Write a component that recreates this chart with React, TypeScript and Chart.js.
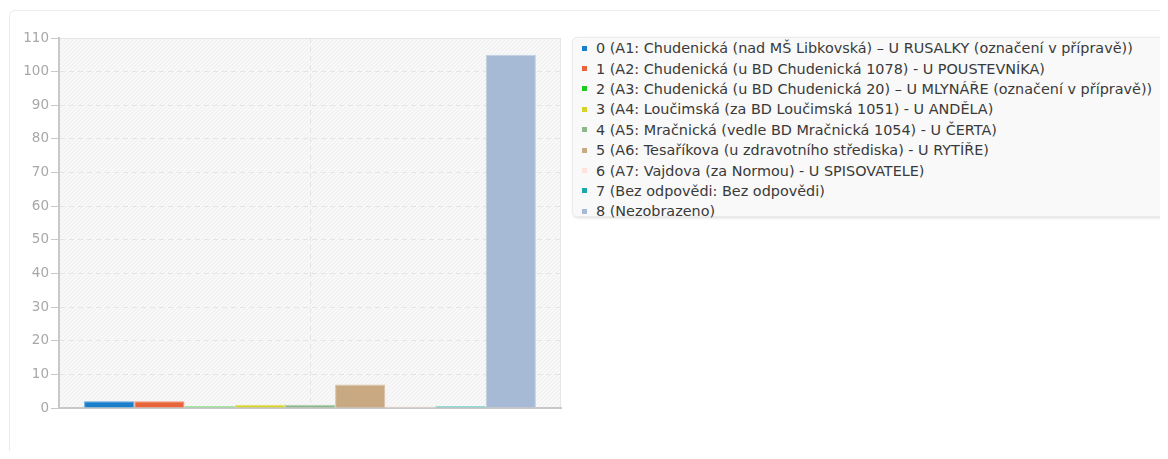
import React, { useEffect, useRef } from "react";
import { Chart, registerables } from "chart.js";

Chart.register(...registerables);

const categories: string[] = [""];
const seriesLabels: string[] = [
  "0 (A1: Chudenická (nad MŠ Libkovská) – U RUSALKY (označení v přípravě))",
  "1 (A2: Chudenická (u BD Chudenická 1078) - U POUSTEVNÍKA)",
  "2 (A3: Chudenická (u BD Chudenická 20) – U MLYNÁŘE (označení v přípravě))",
  "3 (A4: Loučimská (za BD Loučimská 1051) - U ANDĚLA)",
  "4 (A5: Mračnická (vedle BD Mračnická 1054) - U ČERTA)",
  "5 (A6: Tesaříkova (u zdravotního střediska) - U RYTÍŘE)",
  "6 (A7: Vajdova (za Normou) - U SPISOVATELE)",
  "7 (Bez odpovědi: Bez odpovědi)",
  "8 (Nezobrazeno)",
];
const seriesValues: number[] = [2, 2, 0, 1, 1, 7, 0, 0, 105];
const barColors: string[] = [
  "#1a7fca", "#e9643a", "#6fdc6f", "#d6d426", "#8db88b",
  "#c8a981", "#fbe9e2", "#5fc9c1", "#a7bad5",
];
const legendColors: string[] = [
  "#1a7fca", "#e9643a", "#1fcb1f", "#d6d426", "#8db88b",
  "#c8a981", "#fde3da", "#1fa6a6", "#a7bad5",
];
const yTicks: number[] = [0, 10, 20, 30, 40, 50, 60, 70, 80, 90, 100, 110];

function lighten(hex: string, amt: number): string {
  const n = parseInt(hex.slice(1), 16);
  const r = (n >> 16) & 255, g = (n >> 8) & 255, b = n & 255;
  const f = (c: number) => Math.round(c + (255 - c) * amt);
  return `rgb(${f(r)},${f(g)},${f(b)})`;
}

const hatchPlugin = {
  id: "hatch",
  beforeDraw(chart: any) {
    const { ctx, chartArea } = chart;
    if (!chartArea) return;
    const { left, top, right, bottom } = chartArea;
    ctx.save();
    ctx.fillStyle = "#f8f8f8";
    ctx.fillRect(left, top, right - left, bottom - top);
    ctx.beginPath();
    ctx.rect(left, top, right - left, bottom - top);
    ctx.clip();
    ctx.strokeStyle = "#eeeeee";
    ctx.lineWidth = 1;
    const h = bottom - top;
    for (let x = left - h; x < right + h; x += 4) {
      ctx.beginPath();
      ctx.moveTo(x, bottom);
      ctx.lineTo(x + h, top);
      ctx.stroke();
    }
    ctx.restore();
    ctx.save();
    ctx.strokeStyle = "#e6e6e6";
    ctx.lineWidth = 1;
    ctx.strokeRect(left + 0.5, top + 0.5, right - left - 1, bottom - top);
    ctx.restore();
  },
};

export default function App() {
  const ref = useRef<HTMLCanvasElement | null>(null);
  useEffect(() => {
    document.body.style.overflow = "hidden";
    if (!ref.current) return;
    const chart = new Chart(ref.current, {
      type: "bar",
      data: {
        labels: categories,
        datasets: seriesLabels.map((label, i) => ({
          label,
          data: [seriesValues[i]],
          backgroundColor: barColors[i],
          borderColor: lighten(barColors[i], 0.3),
          borderWidth: 1,
          minBarLength: 2,
          categoryPercentage: 0.9,
          barPercentage: 1.0,
        })),
      },
      options: {
        animation: false,
        responsive: false,
        maintainAspectRatio: false,
        layout: { padding: { top: 30, right: 1, bottom: 20, left: 0 } },
        plugins: {
          legend: { display: false },
          tooltip: { enabled: false },
        },
        scales: {
          x: {
            grid: {
              offset: false,
              color: "#e4e4e4",
              drawTicks: false,
            } as any,
            border: { display: true, color: "#c8c8c8", width: 2, dash: [5, 4] } as any,
            ticks: { display: false },
          },
          y: {
            min: 0,
            max: 110,
            afterFit: (scale: any) => {
              scale.width = 51;
            },
            afterBuildTicks: (scale: any) => {
              scale.ticks = yTicks.map((v) => ({ value: v }));
            },
            grid: {
              color: "#e4e4e4",
              tickColor: "#c8c8c8",
              tickLength: 8,
              tickBorderDash: [],
            } as any,
            border: { display: true, color: "#c8c8c8", width: 2, dash: [5, 4] } as any,
            ticks: {
              color: "#a8a8a8",
              padding: 2,
              font: { family: "DejaVu Sans", size: 13.5 },
            },
          },
        },
      },
      plugins: [hatchPlugin],
    });
    return () => chart.destroy();
  }, []);

  return (
    <div
      style={{
        position: "relative",
        height: 443,
        fontFamily: "DejaVu Sans, sans-serif",
      }}
    >
      <div
        style={{
          position: "absolute",
          left: 1,
          top: 2,
          width: 1170,
          height: 470,
          border: "1px solid #ececec",
          borderRadius: 6,
          boxSizing: "border-box",
        }}
      />
      <canvas
        ref={ref}
        width={554}
        height={420}
        style={{ position: "absolute", left: 0, top: 0, width: 554, height: 420 }}
      />
      <div
        style={{
          position: "absolute",
          left: 564,
          top: 29,
          width: 593,
          height: 180,
          boxSizing: "border-box",
          background: "#f9f9f9",
          border: "1px solid #ebebeb",
          borderRadius: 5,
          boxShadow: "1px 1px 3px rgba(0,0,0,0.15)",
        }}
      >
        {seriesLabels.map((label, i) => (
          <div
            key={i}
            style={{
              position: "absolute",
              left: 9,
              top: i * 20.4,
              height: 20.4,
              display: "flex",
              alignItems: "center",
              whiteSpace: "nowrap",
              fontSize: 14.4,
              color: "#3a3a3a",
            }}
          >
            <span
              style={{
                display: "inline-block",
                width: 5,
                height: 5,
                background: legendColors[i],
                marginRight: 9,
              }}
            />
            <span>{label}</span>
          </div>
        ))}
      </div>
    </div>
  );
}
